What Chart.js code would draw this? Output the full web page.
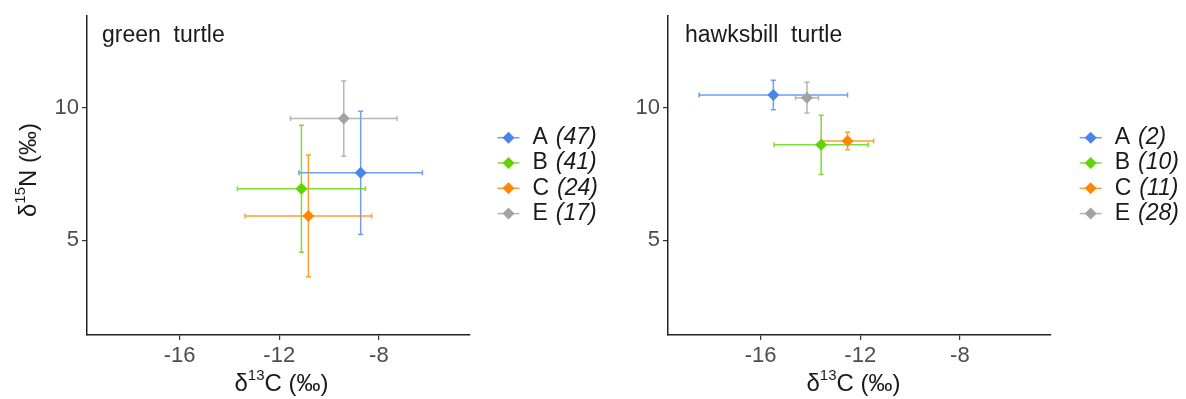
<!DOCTYPE html>
<html>
<head>
<meta charset="utf-8">
<script src="https://cdn.jsdelivr.net/npm/chart.js@4.4.0/dist/chart.umd.min.js"></script>
<style>
  body { margin: 0; background: #fff; width: 1186px; height: 399px; overflow: hidden; position: relative; }
  .panel { position: absolute; top: 0; height: 399px; }
  #wrap-green { left: 0; width: 600px; }
  #wrap-hawk { left: 600px; width: 586px; }
</style>
</head>
<body>
<div class="panel" id="wrap-green"><canvas id="green" width="600" height="399"></canvas></div>
<div class="panel" id="wrap-hawk"><canvas id="hawk" width="586" height="399"></canvas></div>
<script>
const GROUPS = ['A', 'B', 'C', 'E'];
const COLORS = ['#4a86e8', '#5fd400', '#ff8700', '#a3a3a3'];
const X_TICKS = [-16, -12, -8];
const Y_TICKS = [5, 10];
const X_RANGE = [-19.72, -4.34];
const Y_RANGE = [1.42, 13.47];

// green turtle: sample size, mean d13C, mean d15N, SDs
const GREEN_N = [47, 41, 24, 17];
const GREEN_C = [-8.73, -11.11, -10.83, -9.41];
const GREEN_N15 = [7.55, 6.95, 5.92, 9.60];
const GREEN_C_SD = [2.48, 2.57, 2.54, 2.14];
const GREEN_N15_SD = [2.33, 2.40, 2.30, 1.42];

// hawksbill turtle
const HAWK_N = [2, 10, 11, 28];
const HAWK_C = [-15.49, -13.57, -12.51, -14.14];
const HAWK_N15 = [10.49, 8.61, 8.75, 10.39];
const HAWK_C_SD = [2.98, 1.89, 1.05, 0.46];
const HAWK_N15_SD = [0.56, 1.12, 0.33, 0.58];

const FONT = '"Liberation Sans", Arial, sans-serif';

function hexA(hex, a) {
    const n = parseInt(hex.slice(1), 16);
    return `rgba(${n >> 16}, ${(n >> 8) & 255}, ${n & 255}, ${a})`;
}

// error bars in both directions, drawn through the chart scales
const errorBars = {
    id: 'errorBars',
    beforeDatasetsDraw(chart) {
        const xs = chart.scales.x, ys = chart.scales.y, ctx = chart.ctx;
        const cap = 2.5;
        ctx.save();
        ctx.lineWidth = 1.5;
        chart.data.datasets.forEach(ds => {
            ctx.strokeStyle = hexA(ds.backgroundColor, 0.8);
            ds.data.forEach(p => {
                const px = xs.getPixelForValue(p.x), py = ys.getPixelForValue(p.y);
                const x0 = xs.getPixelForValue(p.x - p.xErr), x1 = xs.getPixelForValue(p.x + p.xErr);
                const y0 = ys.getPixelForValue(p.y - p.yErr), y1 = ys.getPixelForValue(p.y + p.yErr);
                ctx.beginPath();
                ctx.moveTo(px, y0); ctx.lineTo(px, y1);
                ctx.moveTo(px - cap, y0); ctx.lineTo(px + cap, y0);
                ctx.moveTo(px - cap, y1); ctx.lineTo(px + cap, y1);
                ctx.moveTo(x0, py); ctx.lineTo(x1, py);
                ctx.moveTo(x0, py - cap); ctx.lineTo(x0, py + cap);
                ctx.moveTo(x1, py - cap); ctx.lineTo(x1, py + cap);
                ctx.stroke();
            });
        });
        ctx.restore();
    }
};

// draws "δ" + superscript + rest
function drawSup(ctx, parts, cx, cy) {
    const big = `24px ${FONT}`, small = `15px ${FONT}`;
    ctx.font = big; const w1 = ctx.measureText(parts[0]).width;
    ctx.font = small; const w2 = ctx.measureText(parts[1]).width;
    ctx.font = big; const w3 = ctx.measureText(parts[2]).width;
    let x = cx - (w1 + w2 + w3) / 2;
    ctx.textBaseline = 'middle';
    ctx.textAlign = 'left';
    ctx.font = big; ctx.fillText(parts[0], x, cy); x += w1;
    ctx.font = small; ctx.fillText(parts[1], x, cy - 8); x += w2;
    ctx.font = big; ctx.fillText(parts[2], x, cy);
}

const decorations = {
    id: 'decorations',
    afterDraw(chart, args, opts) {
        const ctx = chart.ctx, area = chart.chartArea;
        ctx.save();
        ctx.fillStyle = '#1a1a1a';
        // panel title
        ctx.font = `23px ${FONT}`;
        ctx.textBaseline = 'alphabetic';
        ctx.textAlign = 'left';
        ctx.fillText(opts.title, area.left + opts.titleDx, 42);
        // axis titles
        drawSup(ctx, ['δ', '13', 'C (‰)'], (area.left + area.right) / 2 + opts.xTitleDx, 384);
        if (opts.yTitle) {
            ctx.save();
            ctx.translate(29, 170);
            ctx.rotate(-Math.PI / 2);
            drawSup(ctx, ['δ', '15', 'N (‰)'], 0, 0);
            ctx.restore();
        }
        // legend
        opts.counts.forEach((n, i) => {
            const y = 137.7 + i * 25.3;
            const mx = opts.legendX;
            ctx.strokeStyle = hexA(COLORS[i], 0.8);
            ctx.lineWidth = 1.5;
            ctx.beginPath(); ctx.moveTo(mx - 11, y); ctx.lineTo(mx + 11, y); ctx.stroke();
            ctx.fillStyle = COLORS[i];
            ctx.beginPath();
            ctx.moveTo(mx, y - 6); ctx.lineTo(mx + 6, y); ctx.lineTo(mx, y + 6); ctx.lineTo(mx - 6, y);
            ctx.closePath(); ctx.fill();
            ctx.fillStyle = '#1a1a1a';
            ctx.textBaseline = 'middle';
            ctx.font = `23px ${FONT}`;
            ctx.fillText(GROUPS[i], mx + 24, y);
            const w = ctx.measureText(GROUPS[i]).width;
            ctx.font = `italic 23px ${FONT}`;
            ctx.fillText(`(${n})`, mx + 24 + w + 8, y);
        });
        ctx.restore();
    }
};

function makeChart(id, cfg) {
    const datasets = GROUPS.map((g, i) => ({
        label: g,
        data: [{ x: cfg.c[i], y: cfg.n15[i], xErr: cfg.cSd[i], yErr: cfg.n15Sd[i] }],
        backgroundColor: COLORS[i],
        borderColor: COLORS[i],
        pointStyle: 'rectRot',
        pointRadius: 6,
        pointBorderWidth: 0
    }));
    const axis = (min, max, ticks, fit) => ({
        type: 'linear',
        min, max,
        afterBuildTicks: s => { s.ticks = ticks.map(v => ({ value: v })); },
        afterFit: fit,
        grid: { display: true, drawOnChartArea: false, drawTicks: true, tickLength: 5, color: '#333', lineWidth: 1.2 },
        border: { display: true, color: '#222', width: 1.5 },
        ticks: { color: '#4d4d4d', font: { size: 22, family: FONT }, padding: 3 }
    });
    return new Chart(document.getElementById(id), {
        type: 'scatter',
        data: { datasets },
        options: {
            responsive: false,
            animation: false,
            devicePixelRatio: 1,
            layout: { padding: { top: 12, right: cfg.padRight, bottom: 0, left: 0 } },
            scales: {
                x: axis(X_RANGE[0], X_RANGE[1], X_TICKS, s => { s.height = 64; }),
                y: axis(Y_RANGE[0], Y_RANGE[1], Y_TICKS, s => { s.width = cfg.yWidth; })
            },
            plugins: {
                legend: { display: false },
                tooltip: { enabled: false },
                decorations: {
                    title: cfg.title, titleDx: cfg.titleDx, xTitleDx: cfg.xTitleDx,
                    yTitle: cfg.yTitle, counts: cfg.counts, legendX: cfg.legendX
                }
            }
        },
        plugins: [errorBars, decorations]
    });
}

makeChart('green', {
    c: GREEN_C, n15: GREEN_N15, cSd: GREEN_C_SD, n15Sd: GREEN_N15_SD, counts: GREEN_N,
    title: 'green  turtle', titleDx: 15, xTitleDx: 3, yTitle: true, yWidth: 87, padRight: 130, legendX: 508.5
});
makeChart('hawk', {
    c: HAWK_C, n15: HAWK_N15, cSd: HAWK_C_SD, n15Sd: HAWK_N15_SD, counts: HAWK_N,
    title: 'hawksbill  turtle', titleDx: 17, xTitleDx: -6, yTitle: false, yWidth: 68, padRight: 135, legendX: 490.7
});
</script>
</body>
</html>
